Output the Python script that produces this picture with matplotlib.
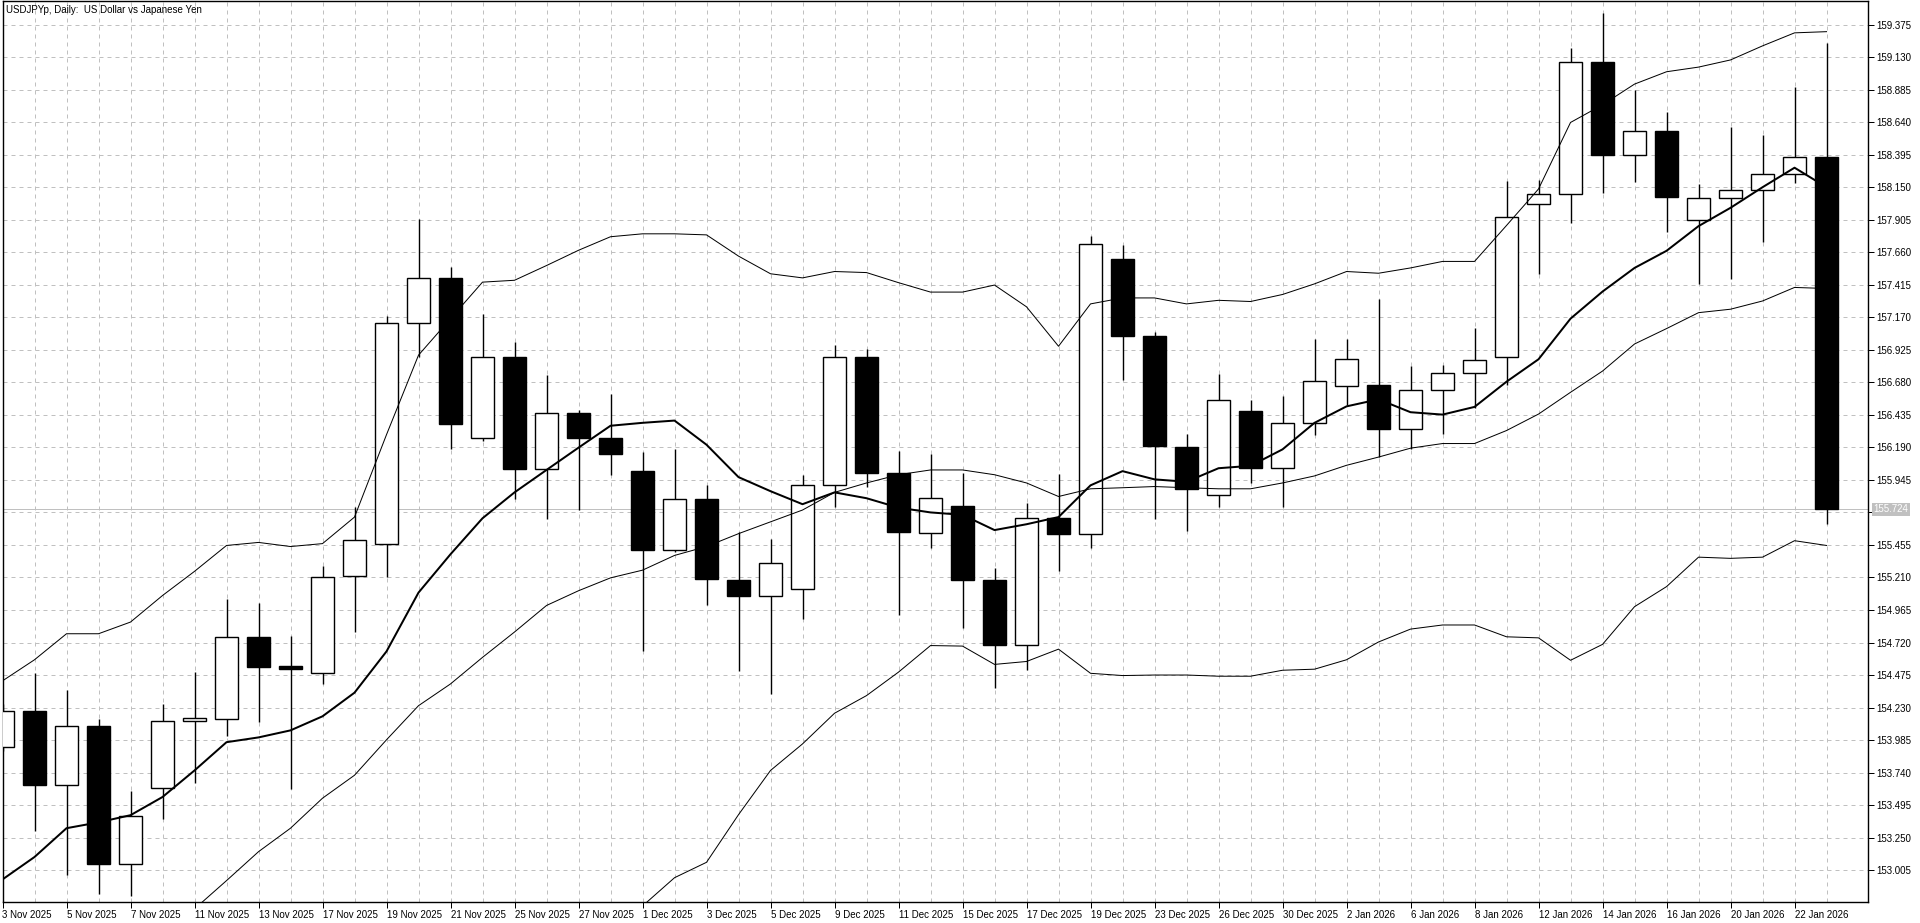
import numpy as np
import matplotlib
matplotlib.use('Agg')
import matplotlib.pyplot as plt
from matplotlib.patches import Rectangle

plt.rcParams['font.family'] = ['Liberation Sans', 'DejaVu Sans']

title = 'USDJPYp, Daily:  US Dollar vs Japanese Yen'

dates = ['3 Nov 2025', '4 Nov 2025', '5 Nov 2025', '6 Nov 2025', '7 Nov 2025',
         '10 Nov 2025', '11 Nov 2025', '12 Nov 2025', '13 Nov 2025', '14 Nov 2025',
         '17 Nov 2025', '18 Nov 2025', '19 Nov 2025', '20 Nov 2025', '21 Nov 2025',
         '24 Nov 2025', '25 Nov 2025', '26 Nov 2025', '27 Nov 2025', '28 Nov 2025',
         '1 Dec 2025', '2 Dec 2025', '3 Dec 2025', '4 Dec 2025', '5 Dec 2025',
         '8 Dec 2025', '9 Dec 2025', '10 Dec 2025', '11 Dec 2025', '12 Dec 2025',
         '15 Dec 2025', '16 Dec 2025', '17 Dec 2025', '18 Dec 2025', '19 Dec 2025',
         '22 Dec 2025', '23 Dec 2025', '24 Dec 2025', '26 Dec 2025', '29 Dec 2025',
         '30 Dec 2025', '31 Dec 2025', '2 Jan 2026', '5 Jan 2026', '6 Jan 2026',
         '7 Jan 2026', '8 Jan 2026', '9 Jan 2026', '12 Jan 2026', '13 Jan 2026',
         '14 Jan 2026', '15 Jan 2026', '16 Jan 2026', '19 Jan 2026', '20 Jan 2026',
         '21 Jan 2026', '22 Jan 2026', '23 Jan 2026']

opens = [153.936, 154.203, 153.647, 154.092, 153.049, 153.625, 154.128, 154.146, 154.764, 154.541,
         154.488, 155.219, 155.460, 157.130, 157.464, 156.257, 156.872, 156.030, 156.448, 156.257,
         156.012, 155.415, 155.800, 155.190, 155.070, 155.123, 155.905, 156.870, 156.000, 155.545,
         155.745, 155.190, 154.700, 155.660, 155.540, 157.608, 157.032, 156.190, 155.830, 156.462,
         156.037, 156.374, 156.656, 156.660, 156.325, 156.623, 156.748, 156.870, 158.026, 158.097,
         159.090, 158.395, 158.570, 157.901, 158.066, 158.128, 158.252, 158.377]
highs = [154.260, 154.488, 154.360, 154.146, 153.602, 154.257, 154.497, 155.045, 155.014, 154.769,
         155.300, 155.740, 157.180, 157.910, 157.548, 157.192, 156.987, 156.738, 156.470, 156.590,
         156.155, 156.180, 155.910, 155.550, 155.500, 155.980, 156.960, 156.930, 156.160, 156.140,
         156.000, 155.280, 155.770, 155.990, 157.780, 157.715, 157.060, 156.290, 156.740, 156.550,
         156.580, 157.010, 157.010, 157.307, 156.800, 156.814, 157.090, 158.195, 158.208, 159.200,
         159.464, 158.885, 158.714, 158.177, 158.607, 158.540, 158.905, 159.233]
lows = [153.900, 153.303, 152.965, 152.827, 152.810, 153.393, 153.660, 154.016, 154.120, 153.616,
        154.404, 154.800, 155.210, 156.870, 156.180, 156.240, 155.800, 155.650, 155.720, 155.980,
        154.658, 155.400, 155.005, 154.506, 154.330, 154.900, 155.740, 155.890, 154.930, 155.430,
        154.830, 154.380, 154.510, 155.260, 155.430, 156.700, 155.650, 155.560, 155.740, 155.920,
        155.740, 156.280, 156.510, 156.117, 156.175, 156.290, 156.490, 156.660, 157.500, 157.880,
        158.105, 158.190, 157.813, 157.420, 157.457, 157.740, 158.180, 155.610]
closes = [154.203, 153.647, 154.092, 153.049, 153.415, 154.132, 154.150, 154.764, 154.537, 154.519,
          155.214, 155.494, 157.130, 157.464, 156.368, 156.872, 156.030, 156.448, 156.257, 156.140,
          155.415, 155.800, 155.197, 155.070, 155.317, 155.905, 156.870, 156.000, 155.550, 155.810,
          155.190, 154.700, 155.660, 155.540, 157.724, 157.032, 156.200, 155.880, 156.550, 156.037,
          156.374, 156.690, 156.855, 156.325, 156.620, 156.748, 156.845, 157.927, 158.097, 159.090,
          158.395, 158.570, 158.080, 158.066, 158.128, 158.252, 158.377, 155.724]

# fast moving average (thick line)
ma_fast = [152.935, 153.104, 153.321, 153.365, 153.419, 153.556, 153.756, 153.969, 154.005, 154.058,
           154.164, 154.342, 154.653, 155.096, 155.385, 155.656, 155.851, 156.020, 156.188, 156.353,
           156.375, 156.392, 156.210, 155.966, 155.860, 155.762, 155.851, 155.807, 155.736, 155.700,
           155.682, 155.567, 155.611, 155.665, 155.904, 156.011, 155.949, 155.931, 156.033, 156.051,
           156.175, 156.375, 156.499, 156.552, 156.455, 156.437, 156.495, 156.685, 156.854, 157.160,
           157.364, 157.542, 157.671, 157.857, 157.995, 158.150, 158.297, 158.150]

# bollinger bands (thin lines)
bb_upper = [154.431, 154.590, 154.786, 154.786, 154.874, 155.074, 155.256, 155.451, 155.474, 155.443,
            155.465, 155.665, 156.286, 156.885, 157.160, 157.435, 157.449, 157.560, 157.675, 157.777,
            157.799, 157.799, 157.791, 157.631, 157.498, 157.467, 157.515, 157.507, 157.431, 157.360,
            157.360, 157.413, 157.249, 156.952, 157.271, 157.316, 157.316, 157.271, 157.298, 157.289,
            157.342, 157.422, 157.515, 157.502, 157.542, 157.591, 157.591, 157.862, 158.137, 158.638,
            158.771, 158.927, 159.020, 159.055, 159.109, 159.215, 159.313, 159.322]
bb_middle = [np.nan, np.nan, np.nan, np.nan, np.nan, 152.500, 152.713, 152.926, 153.144, 153.321,
             153.547, 153.720, 153.987, 154.244, 154.408, 154.608, 154.799, 154.999, 155.110, 155.207,
             155.265, 155.376, 155.443, 155.540, 155.629, 155.718, 155.851, 155.922, 155.984, 156.020,
             156.020, 155.984, 155.922, 155.820, 155.878, 155.886, 155.895, 155.886, 155.878, 155.878,
             155.922, 155.975, 156.055, 156.117, 156.184, 156.219, 156.219, 156.317, 156.441, 156.605,
             156.765, 156.969, 157.085, 157.205, 157.231, 157.293, 157.395, 157.387]
bb_lower = [np.nan, np.nan, np.nan, np.nan, np.nan, np.nan, np.nan, np.nan, np.nan, np.nan,
            np.nan, np.nan, np.nan, np.nan, np.nan, np.nan, np.nan, np.nan, np.nan, 152.550,
            152.735, 152.948, 153.064, 153.423, 153.756, 153.956, 154.187, 154.320, 154.497, 154.697,
            154.693, 154.555, 154.577, 154.670, 154.488, 154.471, 154.475, 154.475, 154.466, 154.466,
            154.511, 154.519, 154.590, 154.724, 154.821, 154.852, 154.852, 154.763, 154.755, 154.586,
            154.706, 154.990, 155.141, 155.363, 155.354, 155.363, 155.487, 155.451]

price_ticks = [153.005, 153.250, 153.495, 153.740, 153.985, 154.230, 154.475, 154.720, 154.965,
               155.210, 155.455, 155.700, 155.945, 156.190, 156.435, 156.680, 156.925, 157.170,
               157.415, 157.660, 157.905, 158.150, 158.395, 158.640, 158.885, 159.130, 159.375]
last_price = 155.724

px = 0.72  # one pixel in points at dpi 100
grid_col = '#c0c0c0'

fig = plt.figure(figsize=(19.2, 9.23), dpi=100)
ax = fig.add_axes([2.5 / 1920, 21 / 923, 1865 / 1920, 901 / 923])
ax.set_xlim(0, 58.28)
ax.set_ylim(152.765, 159.553)

x = np.arange(len(dates))
body_w = 0.69

ax.axhline(last_price, color=grid_col, lw=px, zorder=1.5)

for i in x:
    o, h, l, c = opens[i], highs[i], lows[i], closes[i]
    ax.vlines(i, l, h, color='black', lw=px * 1.4, zorder=3)
    fc = 'white' if c >= o else 'black'
    ax.add_patch(Rectangle((i - body_w / 2, min(o, c)), body_w, abs(c - o),
                           facecolor=fc, edgecolor='black', lw=px * 1.4, zorder=4))

ax.plot(x, bb_upper, color='black', lw=px, zorder=5)
ax.plot(x, bb_middle, color='black', lw=px, zorder=5)
ax.plot(x, bb_lower, color='black', lw=px, zorder=5)
ax.plot(x, ma_fast, color='black', lw=2 * px, zorder=6)

# grid and axes
ax.set_xticks(x[::2])
ax.set_xticklabels(dates[::2])
ax.set_xticks(x, minor=True)
ax.set_yticks(price_ticks)
# the tick label under the last-price box is hidden, as in the terminal
ax.set_yticklabels(['' if abs(p - last_price) < 0.1 else '%.3f' % p for p in price_ticks])
ax.yaxis.tick_right()
ax.grid(which='both', color=grid_col, linestyle=(0, (4, 4)), lw=px, zorder=0)
ax.set_axisbelow(True)
ax.tick_params(axis='x', which='major', length=4, width=px, labelsize=7, pad=2)
ax.tick_params(axis='x', which='minor', length=0)
ax.tick_params(axis='y', length=4, width=px, labelsize=7, pad=2)
for lab in ax.get_xticklabels():
    lab.set_ha('left')
for sp in ax.spines.values():
    sp.set_linewidth(px * 1.4)

ax.text(0.002, 0.996, title, transform=ax.transAxes, ha='left', va='top', fontsize=7)

ax.annotate('%.3f' % last_price, xy=(1, last_price), xycoords=('axes fraction', 'data'),
            xytext=(4.5, 0), textcoords='offset points', ha='left', va='center',
            fontsize=7, color='white',
            bbox=dict(boxstyle='square,pad=0.15', facecolor=grid_col, edgecolor='none'))

fig.savefig('out.png', dpi=100)
